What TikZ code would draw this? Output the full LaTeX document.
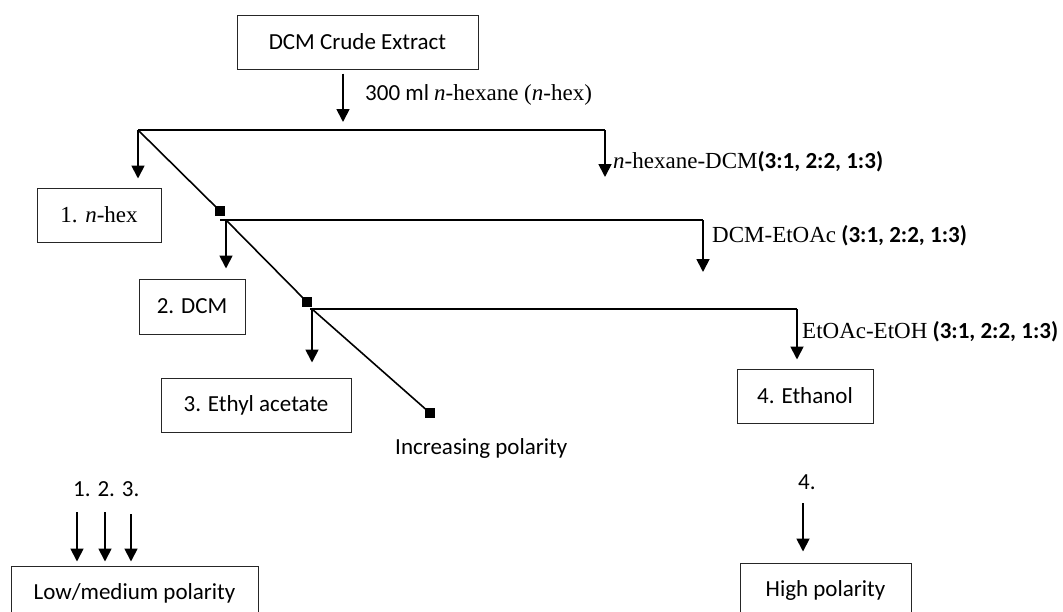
\documentclass[tikz,border=0pt]{standalone}
\usepackage{fontspec}
\setmainfont{Carlito}
\newfontfamily\tnr{Liberation Serif}
\usetikzlibrary{arrows.meta}
\begin{document}
\begin{tikzpicture}[x=1pt,y=-1pt,
  box/.style={draw=black!85, line width=1pt, rectangle, inner sep=0pt, font=\fontsize{23}{27}\selectfont},
  conn/.style={line width=1.8pt},
  diag/.style={line width=1.6pt},
  arr/.style={conn, -{Triangle[length=13pt,width=13pt]}},
  sq/.style={fill=black, draw=none, minimum size=10pt, inner sep=0pt, rectangle},
  lbl/.style={font=\fontsize{23}{27}\selectfont, inner sep=0pt, anchor=mid west}]
\useasboundingbox (0,0) rectangle (1063,611);
\clip (0,0) rectangle (1063,611);
% boxes
\node[box, minimum width=241pt, minimum height=54pt] (top) at (357.5,42) {DCM Crude Extract};
\node[box, minimum width=124pt, minimum height=54pt] (b1) at (99,215) {\tnr 1. \textit{n}-hex\hspace{14pt}};
\node[box, minimum width=106pt, minimum height=55pt] (b2) at (192,306.5) {2. DCM};
\node[box, minimum width=190pt, minimum height=54pt] (b3) at (256,405) {3. Ethyl acetate};
\node[box, minimum width=136pt, minimum height=54pt] (b4) at (805,396) {4. Ethanol};
\node[box, minimum width=247pt, minimum height=54pt] (low) at (134.5,593) {Low/medium polarity\hspace{8pt}};
\node[box, minimum width=171pt, minimum height=54pt] (high) at (825.5,590) {High polarity\hspace{14pt}};
% junction coordinates
\coordinate (t1) at (343,130);
\coordinate (h1l) at (138,130);
\coordinate (h1r) at (605,130);
\coordinate (e1) at (605,177);
\coordinate (h2l) at (220,220);
\coordinate (j2) at (226,220);
\coordinate (h2r) at (703,220);
\coordinate (e2) at (703,272);
\coordinate (h3l) at (310,309);
\coordinate (j3) at (312,309);
\coordinate (h3r) at (797,309);
% diagonals and squares
\draw[diag] (h1l) -- (220,211);
\draw[diag] (j2) -- (307,302);
\draw[diag] (j3) -- (430,413);
\node[sq] (sq1) at (220,211) {};
\node[sq] (sq2) at (307,302) {};
\node[sq] (sq3) at (430,413) {};
% main connectors
\draw[arr, shorten <=4pt, shorten >=8pt] (top.south -| t1) -- (t1);
\draw[conn] (h1l) -- (h1r);
\draw[arr] (h1r) -- (e1);
\draw[arr, shorten >=9pt] (h1l) -- (h1l |- b1.north);
\draw[conn] (h2l) -- (h2r);
\draw[arr] (h2r) -- (e2);
\draw[arr, shorten >=10pt] (j2) -- (j2 |- b2.north);
\draw[conn] (h3l) -- (h3r);
\draw[arr, shorten >=9pt] (h3r) -- (h3r |- b4.north);
\draw[arr, shorten >=15pt] (j3) -- (j3 |- b3.north);
% labels
\node[lbl] (L0) at (365,98) {300 ml {\tnr\textit{n}-hexane (\textit{n}-hex)}};
\node[lbl] (L1) at (613,166) {{\tnr\textit{n}-hexane-DCM}\textbf{(3:1, 2:2, 1:3)}};
\node[lbl] (L2) at (712,240) {{\tnr DCM-EtOAc} \textbf{(3:1, 2:2, 1:3)}};
\node[lbl] (L3) at (802,336) {{\tnr EtOAc-EtOH} \textbf{(3:1, 2:2, 1:3)}};
\node[lbl] (inc) at (395,452) {Increasing polarity};
\node[lbl] (n123) at (73,494) {1. 2. 3.};
\node[lbl] (n4) at (798,487) {4.};
% bottom arrows
\coordinate (a1) at (77,512);
\coordinate (a2) at (105,512);
\coordinate (a3) at (131,514);
\coordinate (a4) at (803,503);
\draw[arr, shorten >=4pt] (a1) -- (a1 |- low.north);
\draw[arr, shorten >=4pt] (a2) -- (a2 |- low.north);
\draw[arr, shorten >=4pt] (a3) -- (a3 |- low.north);
\draw[arr, shorten >=11pt] (a4) -- (a4 |- high.north);
\end{tikzpicture}
\end{document}
